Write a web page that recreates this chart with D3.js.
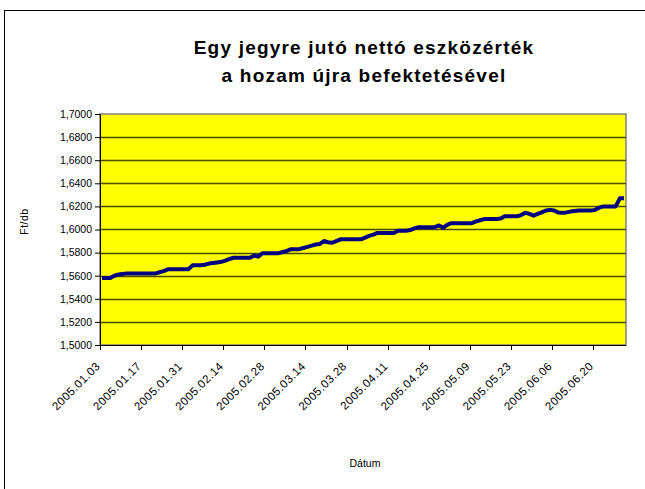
<!DOCTYPE html>
<html>
<head>
<meta charset="utf-8">
<script src="https://cdn.jsdelivr.net/npm/d3@7"></script>
<style>
  body { margin: 0; background: #fff; }
  text { font-family: Arial, "Liberation Sans", sans-serif; fill: #000; }
</style>
</head>
<body>
<div id="chart"></div>
<script>
const titleLines = ["Egy jegyre jutó nettó eszközérték", "a hozam újra befektetésével"];
const yLabel = "Ft/db";
const xLabel = "Dátum";
// every 10th trading day gets a label
const tickLabels = ["2005.01.03", "2005.01.17", "2005.01.31", "2005.02.14", "2005.02.28",
    "2005.03.14", "2005.03.28", "2005.04.11", "2005.04.25", "2005.05.09",
    "2005.05.23", "2005.06.06", "2005.06.20"];
const yTicks = [1.50, 1.52, 1.54, 1.56, 1.58, 1.60, 1.62, 1.64, 1.66, 1.68, 1.70];
// net asset value per unit, one value per trading day
const navValues = [
    1.558, 1.558, 1.558, 1.560, 1.561, 1.5615, 1.562, 1.562, 1.562, 1.562,
    1.562, 1.562, 1.562, 1.562, 1.563, 1.564, 1.5655, 1.5655, 1.5655, 1.5655,
    1.5655, 1.5655, 1.569, 1.569, 1.569, 1.5695, 1.5705, 1.571, 1.5715, 1.572,
    1.573, 1.5745, 1.5755, 1.5755, 1.5755, 1.5755, 1.5755, 1.5775, 1.5765, 1.5795,
    1.5795, 1.5795, 1.5795, 1.5795, 1.5805, 1.5815, 1.583, 1.583, 1.583, 1.584,
    1.585, 1.586, 1.587, 1.5875, 1.590, 1.589, 1.5885, 1.590, 1.5915, 1.5915,
    1.5915, 1.5915, 1.5915, 1.5915, 1.593, 1.5945, 1.5955, 1.597, 1.597, 1.597,
    1.597, 1.597, 1.599, 1.599, 1.599, 1.5995, 1.601, 1.602, 1.602, 1.602,
    1.602, 1.602, 1.6035, 1.6015, 1.604, 1.6055, 1.6055, 1.6055, 1.6055, 1.6055,
    1.6055, 1.607, 1.608, 1.609, 1.609, 1.609, 1.609, 1.6095, 1.6115, 1.6115,
    1.6115, 1.6115, 1.6125, 1.6145, 1.6135, 1.612, 1.6135, 1.6148, 1.6165, 1.617,
    1.6165, 1.6148, 1.6145, 1.6148, 1.6155, 1.616, 1.6165, 1.6165, 1.6165, 1.6165,
    1.617, 1.619, 1.620, 1.620, 1.620, 1.620, 1.627, 1.627
];

const width = 645, height = 489;
const plot = { left: 100, right: 626, top: 114, bottom: 345 };

const svg = d3.select('#chart').append('svg')
    .attr('width', width)
    .attr('height', height);

// outer chart frame
svg.append('rect')
    .attr('x', 4.5).attr('y', 10.5)
    .attr('width', 650).attr('height', 490)
    .attr('fill', '#fff')
    .attr('stroke', '#000')
    .attr('stroke-width', 1);

const x = d3.scaleBand()
    .domain(d3.range(navValues.length))
    .range([plot.left, plot.right])
    .paddingInner(0).paddingOuter(0);
const y = d3.scaleLinear()
    .domain([1.5, 1.7])
    .range([plot.bottom, plot.top]);

// plot area
svg.append('rect')
    .attr('x', plot.left).attr('y', plot.top)
    .attr('width', plot.right - plot.left).attr('height', plot.bottom - plot.top)
    .attr('fill', '#ffff00')
    .attr('stroke', '#808080')
    .attr('stroke-width', 1.5);

// gridlines
svg.append('g')
    .selectAll('line')
    .data(yTicks.slice(1, -1))
    .enter()
    .append('line')
    .attr('x1', plot.left).attr('x2', plot.right)
    .attr('y1', d => Math.round(y(d)) + 0.5)
    .attr('y2', d => Math.round(y(d)) + 0.5)
    .attr('stroke', '#4a4a00')
    .attr('stroke-width', 1.4);

// y axis
const yAxis = d3.axisLeft(y)
    .tickValues(yTicks)
    .tickSize(5)
    .tickPadding(3)
    .tickFormat(d => d3.format('.4f')(d).replace('.', ','));
const gy = svg.append('g')
    .attr('transform', `translate(${plot.left},0)`)
    .call(yAxis);
gy.select('.domain').attr('stroke', '#000');
gy.selectAll('text').attr('font-size', 10.5).attr('font-family', null);

// x axis: ticks on category boundaries every 10 days
const tickIdx = tickLabels.map((d, i) => i * 10);
const gx = svg.append('g');
gx.append('line')
    .attr('x1', plot.left).attr('x2', plot.right)
    .attr('y1', plot.bottom + 0.5).attr('y2', plot.bottom + 0.5)
    .attr('stroke', '#000');
gx.selectAll('.tick')
    .data(tickIdx)
    .enter()
    .append('line')
    .attr('x1', d => Math.round(x(d)) + 0.5)
    .attr('x2', d => Math.round(x(d)) + 0.5)
    .attr('y1', plot.bottom)
    .attr('y2', plot.bottom + 5)
    .attr('stroke', '#000');
gx.selectAll('.lbl')
    .data(tickIdx)
    .enter()
    .append('text')
    .attr('transform', d => `translate(${x(d) + x.bandwidth() / 2 - 4},${plot.bottom + 19}) rotate(-45)`)
    .attr('text-anchor', 'end')
    .attr('dy', '0.35em')
    .attr('font-size', 11.5)
    .attr('letter-spacing', 0.5)
    .text((d, i) => tickLabels[i]);

// the NAV line
const lineBuilder = d3.line()
    .x((d, i) => x(i) + x.bandwidth() / 2)
    .y(d => y(d));
svg.append('path')
    .attr('d', lineBuilder(navValues))
    .attr('fill', 'none')
    .attr('stroke', '#000080')
    .attr('stroke-width', 4)
    .attr('stroke-linejoin', 'round');

// titles
const cx = (plot.left + plot.right) / 2;
svg.selectAll('.title')
    .data(titleLines)
    .enter()
    .append('text')
    .attr('x', cx + 1)
    .attr('y', (d, i) => 54 + i * 28)
    .attr('text-anchor', 'middle')
    .attr('font-size', 19).attr('font-weight', 'bold')
    .attr('letter-spacing', 1.2)
    .text(d => d);

svg.append('text')
    .attr('transform', `translate(28,${(plot.top + plot.bottom) / 2 - 8}) rotate(-90)`)
    .attr('text-anchor', 'middle')
    .attr('font-size', 10.5)
    .attr('letter-spacing', 0.5)
    .text(yLabel);

svg.append('text')
    .attr('x', cx + 2).attr('y', 467)
    .attr('text-anchor', 'middle')
    .attr('font-size', 10.5)
    .text(xLabel);
</script>
</body>
</html>
